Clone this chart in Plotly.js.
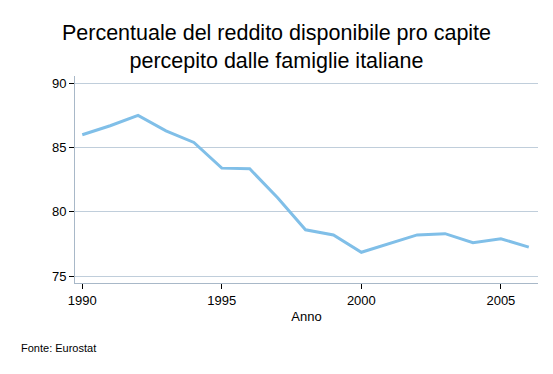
<!DOCTYPE html>
<html><head><meta charset="utf-8">
<script src="https://cdn.plot.ly/plotly-3.0.1.min.js"></script>
<style>html,body{margin:0;padding:0;background:#fff}#chart{width:553px;height:374px}</style>
</head><body><div id="chart"></div>
<script>
const years = [1990,1991,1992,1993,1994,1995,1996,1997,1998,1999,2000,2001,2002,2003,2004,2005,2006];
const values = [86.0,86.7,87.5,86.3,85.4,83.4,83.35,81.1,78.6,78.2,76.85,77.5,78.2,78.3,77.6,77.9,77.25];
const xTicks = [1990,1995,2000,2005];
const yTicks = [75,80,85,90];

const trace = {x: years, y: values, type: 'scatter', mode: 'lines',
  line: {color: '#80bfe8', width: 3}, hoverinfo: 'skip'};

const layout = {
  width: 553, height: 374,
  margin: {l: 75, r: 15, t: 76, b: 91},
  paper_bgcolor: '#fff', plot_bgcolor: '#fff',
  font: {family: 'Liberation Sans, Arial, sans-serif', color: '#000', size: 13},
  showlegend: false,
  title: {text: 'Percentuale del reddito disponibile pro capite<br>percepito dalle famiglie italiane',
    font: {size: 21.5, color: '#000'}, x: 0.5, xanchor: 'center', yref: 'container', y: 0.894, yanchor: 'top'},
  xaxis: {range: [1989.74, 2006.33], tickvals: xTicks, ticktext: xTicks.map(String),
    showgrid: false, zeroline: false, showline: true, linecolor: '#a8b8c8', linewidth: 1,
    ticks: 'outside', ticklen: 5, tickcolor: '#000', tickfont: {size: 13},
    title: {text: 'Anno', font: {size: 13}, standoff: 5}},
  yaxis: {range: [74.46, 90.57], tickvals: yTicks, ticktext: yTicks.map(String),
    showgrid: true, gridcolor: '#c0cedb', gridwidth: 1, zeroline: false,
    showline: true, linecolor: '#a8b8c8', linewidth: 1,
    ticks: 'outside', ticklen: 5, tickcolor: '#000', tickfont: {size: 13}},
  annotations: [{text: 'Fonte: Eurostat', xref: 'paper', yref: 'paper', x: -0.122, y: -0.315,
    xanchor: 'left', yanchor: 'middle', showarrow: false, font: {size: 11, color: '#000'}}]
};
Plotly.newPlot('chart', [trace], layout, {displayModeBar: false, staticPlot: true});
</script></body></html>
